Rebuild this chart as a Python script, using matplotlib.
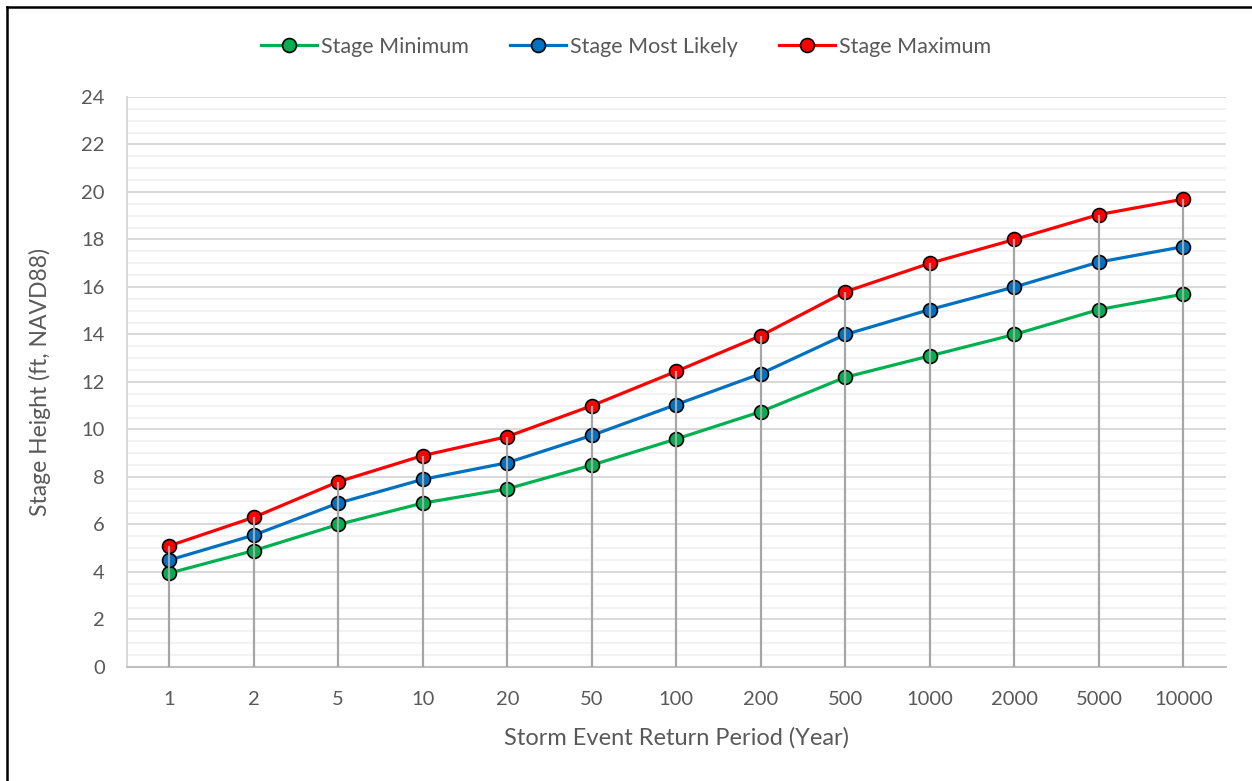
import matplotlib.pyplot as plt
from matplotlib.lines import Line2D
from matplotlib.ticker import MultipleLocator

# return periods (years) and stage heights (ft, NAVD88)
periods = ["1", "2", "5", "10", "20", "50", "100", "200", "500", "1000", "2000", "5000", "10000"]
stage_min = [3.95, 4.9, 6.0, 6.9, 7.5, 8.5, 9.6, 10.75, 12.2, 13.1, 14.0, 15.05, 15.7]
stage_likely = [4.5, 5.55, 6.9, 7.9, 8.6, 9.75, 11.05, 12.35, 14.0, 15.05, 16.0, 17.05, 17.7]
stage_max = [5.1, 6.3, 7.8, 8.9, 9.7, 11.0, 12.45, 13.95, 15.8, 17.0, 18.0, 19.05, 19.7]

plt.rcParams['font.family'] = ['Lato', 'DejaVu Sans']
txt = '#595959'

fig = plt.figure(figsize=(12.52, 7.81), dpi=100)
ax = fig.add_axes([0.1014, 0.146, 0.8776, 0.7298])

x = range(len(periods))

# drop lines from the maximum stage down to zero
ax.vlines(x, 0, stage_max, color='#A6A6A6', lw=1.6, zorder=4)

series = [
    (stage_min, '#00B050', 'Stage Minimum'),
    (stage_likely, '#0070C0', 'Stage Most Likely'),
    (stage_max, '#FF0000', 'Stage Maximum'),
]
for vals, col, name in series:
    ax.plot(x, vals, color=col, lw=2.3, marker='o', ms=10,
            mfc=col, mec='black', mew=1.2, label=name, zorder=3)

ax.set_xlim(-0.5, len(periods) - 0.5)
ax.set_ylim(0, 24)
ax.set_xticks(list(x))
ax.set_xticklabels(periods)
ax.yaxis.set_major_locator(MultipleLocator(2))
ax.yaxis.set_minor_locator(MultipleLocator(0.5))
ax.grid(axis='y', which='major', color='#D9D9D9', lw=1.4, zorder=0)
ax.grid(axis='y', which='minor', color='#F2F2F2', lw=1.4, zorder=0)
ax.set_axisbelow(True)

for s in ['top', 'right']:
    ax.spines[s].set_visible(False)
ax.spines['left'].set_color('#D9D9D9')
ax.spines['bottom'].set_color('#BFBFBF')
ax.spines['left'].set_linewidth(1.4)
ax.spines['bottom'].set_linewidth(1.4)

ax.tick_params(axis='both', which='both', length=0, labelsize=14.5, labelcolor=txt)
ax.tick_params(axis='x', pad=17)
ax.tick_params(axis='y', pad=16)

ax.set_xlabel('Storm Event Return Period (Year)', fontsize=17, color=txt, labelpad=14)
ax.set_ylabel('Stage Height (ft, NAVD88)', fontsize=16.5, color=txt, labelpad=22)

fig.legend(loc='center', bbox_to_anchor=(0.5, 0.94), ncol=3, frameon=False,
           fontsize=15.5, labelcolor=txt, handlelength=2.6, handletextpad=0.2,
           columnspacing=1.9)

# chart frame (left and top edges)
fig.add_artist(Line2D([0.0055, 0.0055], [0, 0.991], color='black', lw=1.8,
                      transform=fig.transFigure))
fig.add_artist(Line2D([0.0055, 1.0], [0.991, 0.991], color='black', lw=1.8,
                      transform=fig.transFigure))

fig.savefig('out.png', dpi=100)
